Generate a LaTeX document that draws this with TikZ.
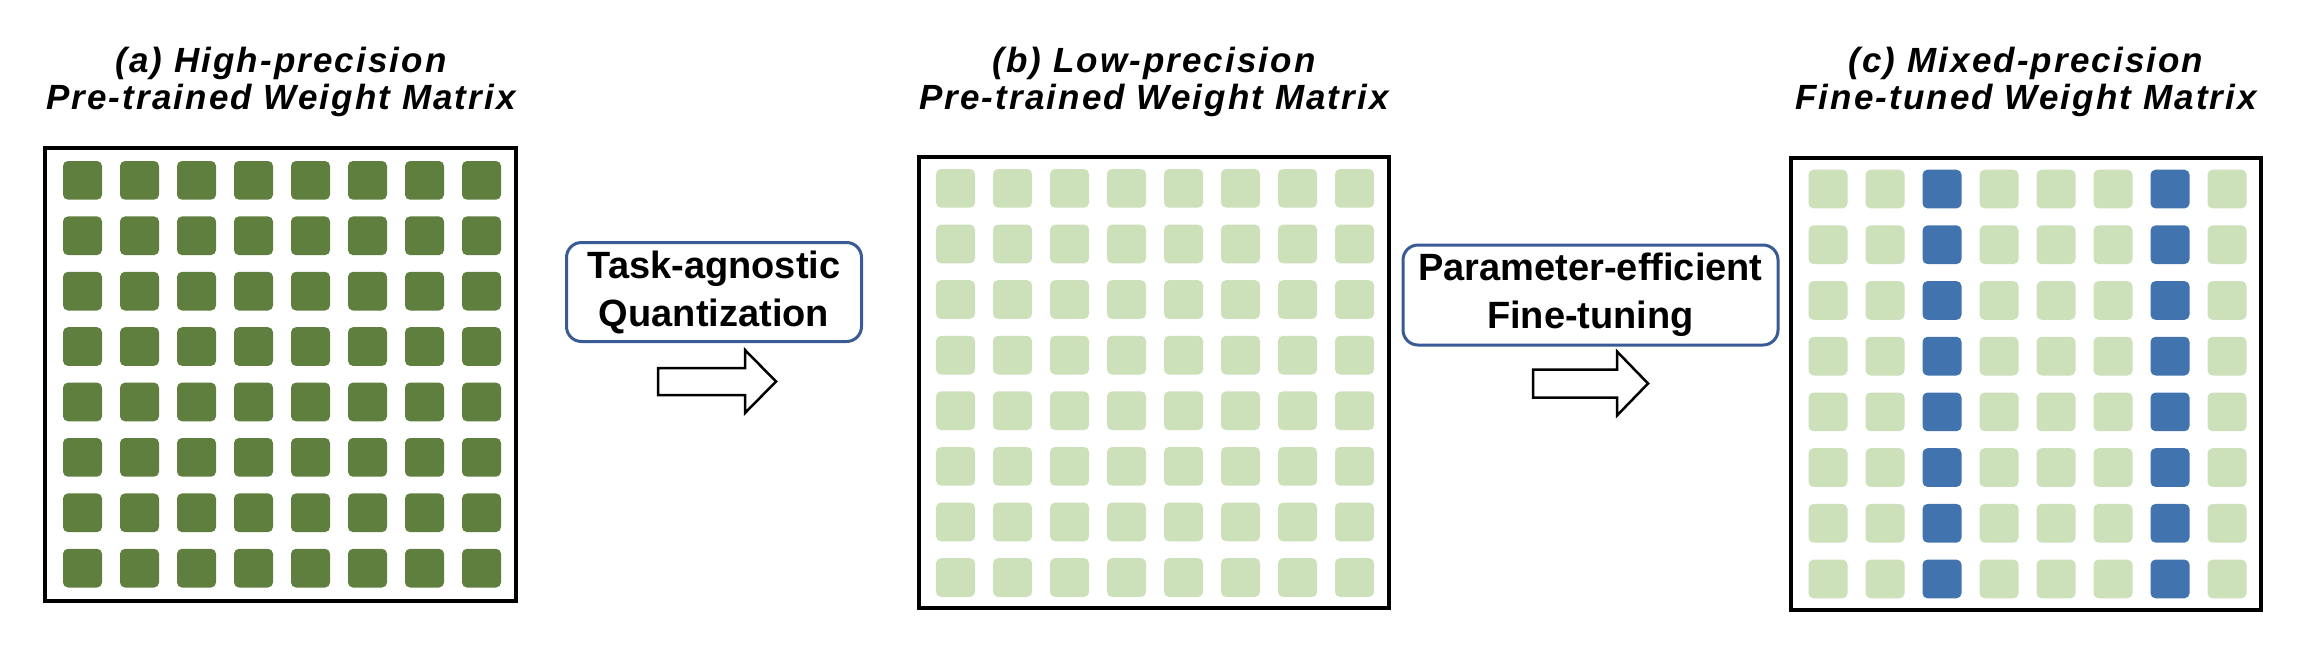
\documentclass[tikz,border=0pt]{standalone}
\usepackage{fontspec}
\setmainfont{Liberation Sans}
\newfontfamily\titlefont{Liberation Sans}[LetterSpace=6]
\definecolor{dkgreen}{HTML}{5F7F3F}
\definecolor{ltgreen}{HTML}{CCE0BA}
\definecolor{cellblue}{HTML}{4174AF}
\definecolor{boxblue}{HTML}{3A5A96}
\tikzset{
  panel/.style={draw=black, line width=4pt, inner sep=0pt, outer sep=0pt, minimum width=470pt, minimum height=452pt},
  cell/.style={rounded corners=5pt, draw=none, inner sep=0pt, minimum width=39pt, minimum height=38.7pt},
  title/.style={align=center, inner sep=0pt, font=\titlefont\bfseries\itshape\fontsize{35}{37.6}\selectfont},
  steplabel/.style={draw=boxblue, line width=3pt, rounded corners=15pt, align=center, inner sep=0pt,
    font=\bfseries\fontsize{38}{48}\selectfont},
  blockarrow/.style={draw=black, line width=2.5pt, fill=white, line join=miter}
}
\begin{document}
\begin{tikzpicture}[x=1pt,y=-1pt]
\useasboundingbox (0,0) rectangle (2312,662);
% panel (a)
\foreach \r in {0,...,7}{\foreach \c in {0,...,7}{
  \node[cell, fill=dkgreen] (a-\r-\c) at ({82.5+57*\c},{180.35+55.4*\r}) {};
}}
\node[panel, minimum width=471pt, minimum height=453pt] (pa) at (280.5,374.5) {};
% panel (b)
\foreach \r in {0,...,7}{\foreach \c in {0,...,7}{
  \node[cell, fill=ltgreen] (b-\r-\c) at ({955.5+57*\c},{188.35+55.6*\r}) {};
}}
\node[panel, minimum width=470pt, minimum height=451pt] (pb) at (1154,382.5) {};
% panel (c)
\foreach \r in {0,...,7}{\foreach \c in {0,...,7}{
  \ifnum\c=2 \def\cc{cellblue}\else\ifnum\c=6 \def\cc{cellblue}\else\def\cc{ltgreen}\fi\fi
  \node[cell, fill=\cc] (c-\r-\c) at ({1828+57*\c},{189.05+55.7*\r}) {};
}}
\node[panel, minimum width=470pt, minimum height=452pt] (pc) at (2026,384) {};
% titles
\node[title] (ta) at (281,82) {(a) High-precision\\Pre-trained Weight Matrix};
\node[title] (tb) at (1154,82) {(b) Low-precision\\Pre-trained Weight Matrix};
\node[title] (tc) at (2026,82) {(c) Mixed-precision\\Fine-tuned Weight Matrix};
% step labels
\node[steplabel, minimum width=295pt, minimum height=99pt] (la) at (714,292) {Task-agnostic\\Quantization};
\node[steplabel, minimum width=375pt, minimum height=100pt] (lb) at (1590.5,295) {Parameter-efficient\\Fine-tuning};
% block arrows
\coordinate (arA) at (658,381.5);
\coordinate (arB) at (1533,383.5);
\draw[blockarrow, shift={(arA)}] (0,-13.5) -- (87,-13.5) -- (87,-31.5) -- (118,0) -- (87,31.5) -- (87,13.5) -- (0,13.5) -- cycle;
\draw[blockarrow, shift={(arB)}] (0,-14) -- (84,-14) -- (84,-32) -- (115,0) -- (84,32) -- (84,14) -- (0,14) -- cycle;
\end{tikzpicture}
\end{document}
